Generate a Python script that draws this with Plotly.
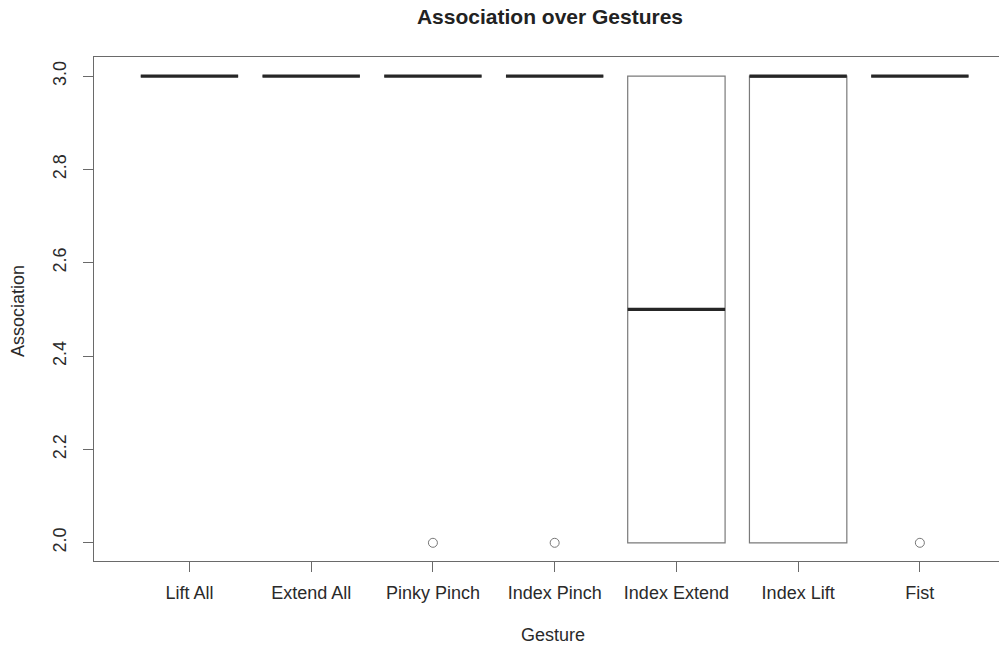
import plotly.graph_objects as go

gestures = ["Lift All", "Extend All", "Pinky Pinch", "Index Pinch",
            "Index Extend", "Index Lift", "Fist"]
q1 = [3, 3, 3, 3, 2, 2, 3]
median = [3, 3, 3, 3, 2.5, 3, 3]
q3 = [3, 3, 3, 3, 3, 3, 3]
lower_whisker = [3, 3, 3, 3, 2, 2, 3]
upper_whisker = [3, 3, 3, 3, 3, 3, 3]
outlier_gestures = ["Pinky Pinch", "Index Pinch", "Fist"]
outlier_values = [2, 2, 2]
y_ticks = [2.0, 2.2, 2.4, 2.6, 2.8, 3.0]

FONT = "Liberation Sans, Arial, sans-serif"
BOXW = 0.8
positions = list(range(1, len(gestures) + 1))

# the page body has an 8px margin; the figure is sized to fill the window from there
W, H = 991, 638
L, T, B = 86, 49, 85
PW, PH = W - L, H - T - B

fig = go.Figure()
fig.add_trace(go.Box(
    x=positions, q1=q1, median=median, q3=q3,
    lowerfence=lower_whisker, upperfence=upper_whisker,
    width=BOXW, whiskerwidth=0.5,
    fillcolor="rgba(255,255,255,0)",
    line=dict(color="#7a7a7a", width=1.2),
    boxpoints=False, showlegend=False, hoverinfo="skip",
))

mx, my = [], []
for p, m in zip(positions, median):
    mx += [p - BOXW / 2, p + BOXW / 2, None]
    my += [m, m, None]
fig.add_trace(go.Scatter(
    x=mx, y=my, mode="lines",
    line=dict(color="#262626", width=3.2),
    showlegend=False, hoverinfo="skip",
))

fig.add_trace(go.Scatter(
    x=[positions[gestures.index(g)] for g in outlier_gestures],
    y=outlier_values, mode="markers",
    marker=dict(symbol="circle-open", size=9, color="#777777",
                line=dict(width=1)),
    showlegend=False, hoverinfo="skip",
))

fig.update_layout(
    width=W, height=H,
    margin=dict(l=L, r=0, t=T, b=B, autoexpand=False),
    plot_bgcolor="white", paper_bgcolor="white",
    font=dict(family=FONT, size=18, color="#2a2a2a"),
    title=dict(text="<b>Association over Gestures</b>",
               x=(550 - 8) / W, xanchor="center", xref="container",
               y=1 - 9 / H, yanchor="middle", yref="container",
               font=dict(family=FONT, size=21, color="#222222")),
    xaxis=dict(range=[0.216, 7.650], tickvals=positions, ticktext=gestures,
               showline=True, mirror=True, linecolor="#6a6a6a", linewidth=1,
               ticks="outside", ticklen=10, tickcolor="#6a6a6a",
               ticklabelstandoff=5, automargin=False,
               showgrid=False, zeroline=False,
               tickfont=dict(family=FONT, size=18, color="#2a2a2a")),
    yaxis=dict(range=[1.961, 3.041], tickvals=y_ticks,
               ticktext=[f"{v:.1f}" for v in y_ticks], tickangle=-90,
               showline=True, mirror=False, linecolor="#6a6a6a", linewidth=1,
               ticks="outside", ticklen=10, tickcolor="#6a6a6a",
               ticklabelstandoff=10, automargin=False,
               showgrid=False, zeroline=False,
               tickfont=dict(family=FONT, size=18, color="#2a2a2a")),
    annotations=[
        dict(text="Gesture", xref="paper", yref="paper",
             x=(553 - 94) / PW, y=-74 / PH, xanchor="center", yanchor="middle",
             showarrow=False, font=dict(family=FONT, size=18, color="#2a2a2a")),
        dict(text="Association", xref="paper", yref="paper",
             x=(18 - 94) / PW, y=(561 - 311) / PH, xanchor="center", yanchor="middle",
             textangle=-90, showarrow=False,
             font=dict(family=FONT, size=18, color="#2a2a2a")),
    ],
    hovermode=False,
)

fig.write_html("out.html")
